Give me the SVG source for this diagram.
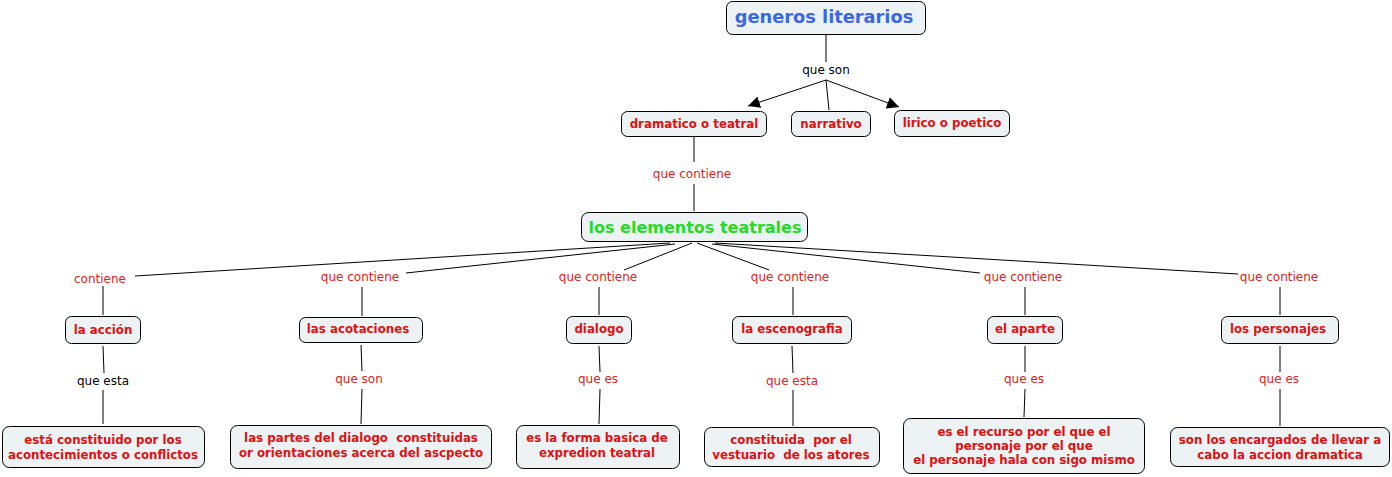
<svg xmlns="http://www.w3.org/2000/svg" width="1392" height="477" viewBox="0 0 1392 477">
<defs>
<style>
.box{fill:#edf2f4;stroke:#000;stroke-width:1}
.t{font-family:"DejaVu Sans",Verdana,sans-serif;font-weight:bold;font-size:11.8px;fill:#e01010;text-anchor:middle;white-space:pre}
.lb{font-family:"DejaVu Sans",Verdana,sans-serif;font-size:12px;fill:#dd2222;text-anchor:middle}
.lk{fill:#000}
.c{stroke:#000;stroke-width:1;fill:none}
</style>
<marker id="ar" viewBox="0 0 10 10" refX="10" refY="5" markerWidth="12" markerHeight="12" markerUnits="userSpaceOnUse" orient="auto">
<path d="M0,0 L10,5 L0,10 z" fill="#000"/>
</marker>
</defs>
<rect width="1392" height="477" fill="#fff"/>
<g id="connectors">
<path class="c" d="M826,35 V62"/>
<path class="c" d="M826,80 L748,106" marker-end="url(#ar)"/>
<path class="c" d="M826,80 L829,110"/>
<path class="c" d="M826,80 L899,107" marker-end="url(#ar)"/>
<path class="c" d="M694,137 V162"/>
<path class="c" d="M694,184 V211"/>
<path class="c" d="M670,243 L135,276"/>
<path class="c" d="M675,244 L406,273"/>
<path class="c" d="M692,243 L624,270"/>
<path class="c" d="M697,243 L769,270"/>
<path class="c" d="M712,244 L980,273"/>
<path class="c" d="M715,243 L1238,274"/>
<path class="c" d="M103,286 V315"/>
<path class="c" d="M362,287 V316"/>
<path class="c" d="M599,287 V315"/>
<path class="c" d="M793,287 V315"/>
<path class="c" d="M1025,287 V315"/>
<path class="c" d="M1280,287 V315"/>
<path class="c" d="M103,346 L104,373"/>
<path class="c" d="M103,390 V424"/>
<path class="c" d="M361,345 L362,371"/>
<path class="c" d="M362,389 L361,424"/>
<path class="c" d="M599,346 L600,372"/>
<path class="c" d="M600,389 L599,424"/>
<path class="c" d="M792,346 L793,373"/>
<path class="c" d="M793,390 V426"/>
<path class="c" d="M1025,346 V372"/>
<path class="c" d="M1025,389 L1024,417"/>
<path class="c" d="M1280,346 V372"/>
<path class="c" d="M1280,389 V426"/>
</g>
<g id="labels">
<text class="lb lk" x="826" y="74">que son</text>
<text class="lb" x="692" y="178">que contiene</text>
<text class="lb" x="100" y="283">contiene</text>
<text class="lb" x="360" y="281">que contiene</text>
<text class="lb" x="598" y="281">que contiene</text>
<text class="lb" x="790" y="281">que contiene</text>
<text class="lb" x="1023" y="281">que contiene</text>
<text class="lb" x="1279" y="281">que contiene</text>
<text class="lb lk" x="103" y="385">que esta</text>
<text class="lb" x="359" y="383">que son</text>
<text class="lb" x="598" y="383">que es</text>
<text class="lb" x="792" y="385">que esta</text>
<text class="lb" x="1024" y="383">que es</text>
<text class="lb" x="1279" y="383">que es</text>
</g>
<g id="n-generos"><rect class="box" x="726.5" y="1.5" width="199" height="33" rx="6"/><text class="t" x="824" y="23" style="font-size:17.8px;fill:#3a66e8">generos literarios</text></g>
<g id="n-dramatico"><rect class="box" x="621.5" y="111.5" width="145" height="25" rx="6"/><text class="t" x="694" y="128">dramatico o teatral</text></g>
<g id="n-narrativo"><rect class="box" x="791.5" y="111.5" width="79" height="25" rx="6"/><text class="t" x="831" y="128">narrativo</text></g>
<g id="n-lirico"><rect class="box" x="894.5" y="110.5" width="115" height="26" rx="6"/><text class="t" x="952" y="127">lirico o poetico</text></g>
<g id="n-elementos"><rect class="box" x="581.5" y="212.5" width="226" height="29" rx="7"/><text class="t" x="695" y="233" style="font-size:16px;fill:#22dd22">los elementos teatrales</text></g>
<g id="n-accion"><rect class="box" x="65.5" y="316.5" width="75" height="27" rx="6"/><text class="t" x="103" y="334">la acción</text></g>
<g id="n-acotaciones"><rect class="box" x="299.5" y="317.5" width="123" height="25" rx="6"/><text class="t" x="358" y="333">las acotaciones</text></g>
<g id="n-dialogo"><rect class="box" x="566.5" y="316.5" width="65" height="27" rx="6"/><text class="t" x="599" y="333">dialogo</text></g>
<g id="n-escenografia"><rect class="box" x="732.5" y="316.5" width="119" height="27" rx="6"/><text class="t" x="792" y="333">la escenografia</text></g>
<g id="n-aparte"><rect class="box" x="987.5" y="316.5" width="75" height="27" rx="6"/><text class="t" x="1025" y="333">el aparte</text></g>
<g id="n-personajes"><rect class="box" x="1221.5" y="316.5" width="117" height="27" rx="6"/><text class="t" x="1278" y="333">los personajes</text></g>
<g id="n-b1"><rect class="box" x="2.5" y="426.5" width="202" height="41" rx="7"/><text class="t" x="103" y="444">está constituido por los</text><text class="t" x="103" y="459">acontecimientos o conflictos</text></g>
<g id="n-b2"><rect class="box" x="230.5" y="425.5" width="261" height="43" rx="7"/><text class="t" x="361" y="442">las partes del dialogo  constituidas</text><text class="t" x="361" y="457">or orientaciones acerca del ascpecto</text></g>
<g id="n-b3"><rect class="box" x="516.5" y="425.5" width="163" height="43" rx="7"/><text class="t" x="597" y="442">es la forma basica de</text><text class="t" x="597" y="457">expredion teatral</text></g>
<g id="n-b4"><rect class="box" x="704.5" y="427.5" width="175" height="39" rx="7"/><text class="t" x="791" y="444">constituida  por el</text><text class="t" x="791" y="459">vestuario  de los atores</text></g>
<g id="n-b5"><rect class="box" x="903.5" y="418.5" width="241" height="55" rx="7"/><text class="t" x="1024" y="436">es el recurso por el que el</text><text class="t" x="1024" y="450">personaje por el que</text><text class="t" x="1024" y="464">el personaje hala con sigo mismo</text></g>
<g id="n-b6"><rect class="box" x="1170.5" y="427.5" width="219" height="39" rx="7"/><text class="t" x="1280" y="444">son los encargados de llevar a</text><text class="t" x="1280" y="459">cabo la accion dramatica</text></g>
</svg>
